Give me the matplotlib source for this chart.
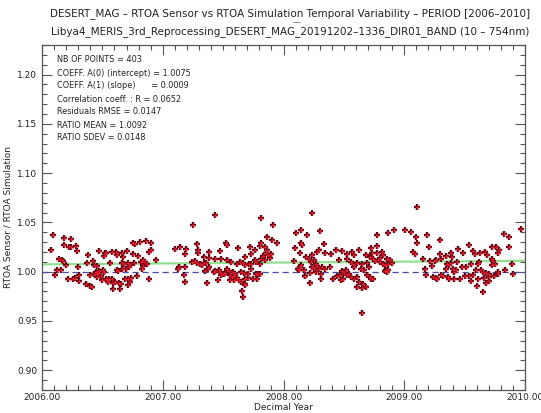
import matplotlib
matplotlib.use("Agg")
import matplotlib.pyplot as plt
from matplotlib.ticker import MultipleLocator, FormatStrFormatter
import numpy as np

title1 = "DESERT_MAG \u2013 RTOA Sensor vs RTOA Simulation Temporal Variability \u2013 PERIOD [2006\u20132010]"
title2 = "Libya4_MERIS_3rd_Reprocessing_DESERT_MAG_20191202\u20131336_DIR01_BAND (10 \u2013 754nm)"
stats = ["NB OF POINTS = 403",
         "COEFF. A(0) (intercept) = 1.0075",
         "COEFF. A(1) (slope)      = 0.0009",
         "Correlation coeff. : R = 0.0652",
         "Residuals RMSE = 0.0147",
         "RATIO MEAN = 1.0092",
         "RATIO SDEV = 0.0148"]
intercept = 1.0075
slope = 0.0009
ref_level = 1.0

years = [
 2006.094,2006.077,2006.185,2006.237,2006.182,2006.226,2006.243,2006.282,2006.287,2006.141,
 2006.163,2006.177,2006.202,2006.298,2006.127,2006.155,2006.108,2006.215,2006.257,2006.271,
 2006.309,2006.309,2006.384,2006.375,2006.425,2006.431,2006.475,2006.522,2006.513,2006.453,
 2006.447,2006.398,2006.433,2006.458,2006.475,2006.489,2006.497,2006.536,2006.513,2006.364,
 2006.398,2006.411,2006.458,2006.469,2006.502,
 2006.530,2006.580,2006.613,2006.621,2006.663,2006.674,2006.707,2006.751,2006.798,2006.756,
 2006.770,2006.814,2006.861,2006.903,2006.903,2006.889,2006.944,2006.566,2006.663,2006.682,
 2006.709,2006.729,2006.765,2006.820,2006.839,2006.856,2006.867,2006.834,2006.825,2006.718,
 2006.696,2006.660,2006.618,2006.629,2006.530,2006.558,2006.577,2006.544,2006.585,2006.607,
 2006.635,2006.654,2006.591,2006.646,2006.690,2006.709,2006.737,2006.729,2006.709,2006.787,
 2006.883,
 2007.435,2007.248,2007.099,2007.143,2007.195,2007.187,2007.284,2007.292,2007.292,2007.380,
 2007.339,2007.386,2007.435,2007.485,2007.477,2007.524,2007.532,2007.623,2007.532,2007.568,
 2007.615,2007.242,2007.264,2007.284,2007.311,2007.339,2007.358,2007.325,2007.380,2007.375,
 2007.137,2007.126,2007.187,2007.173,2007.181,2007.347,2007.366,2007.422,2007.435,2007.463,
 2007.477,2007.491,2007.504,2007.513,2007.485,2007.457,2007.532,2007.546,2007.560,2007.574,
 2007.587,2007.601,2007.579,2007.615,2007.560,2007.629,2007.587,
 2007.816,2007.913,2007.866,2007.905,2007.949,2007.811,2007.803,2007.720,2007.761,2007.850,
 2007.861,2007.858,2007.872,2007.899,2007.885,2007.830,2007.816,2007.844,2007.728,2007.678,
 2007.761,2007.775,2007.734,2007.712,2007.678,2007.665,2007.637,2007.803,2007.645,2007.673,
 2007.706,2007.734,2007.775,2007.789,2007.803,2007.747,2007.783,2007.684,2007.706,2007.651,
 2007.678,2007.684,2007.656,2007.665,2008.106,2008.142,2008.148,2008.153,2008.098,2008.134,
 2008.087,2008.148,2008.134,2008.120,2008.128,2008.175,
 2008.239,2008.197,2008.300,2008.335,2008.184,2008.211,2008.239,2008.280,2008.294,2008.341,
 2008.391,2008.432,2008.487,2008.529,2008.570,2008.584,2008.625,2008.680,2008.722,2008.225,
 2008.253,2008.266,2008.239,2008.253,2008.280,2008.322,2008.341,2008.385,2008.294,2008.460,
 2008.529,2008.556,2008.578,2008.611,2008.653,2008.694,2008.584,2008.639,2008.667,2008.708,
 2008.170,2008.219,2008.266,2008.308,2008.178,2008.219,2008.308,2008.413,2008.440,2008.468,
 2008.487,2008.501,2008.515,2008.523,2008.496,2008.479,2008.542,2008.556,2008.584,2008.611,
 2008.625,2008.661,2008.680,2008.611,2008.653,2008.694,2008.722,2008.653,
 2009.103,2008.772,2008.868,2008.915,2009.006,2009.053,2009.097,2009.108,2009.186,2009.208,
 2008.772,2008.730,2008.772,2008.813,2008.821,2008.799,2008.854,2008.882,2008.896,2008.868,
 2008.744,2008.785,2008.716,2008.758,2008.799,2008.827,2008.841,2009.075,2009.089,2009.158,
 2009.213,2009.255,2009.227,2009.172,2008.849,2008.854,2008.841,2008.868,2008.716,2008.744,
 2009.180,2009.241,2009.269,
 2009.296,2009.539,2009.829,2009.865,2009.296,2009.346,2009.387,2009.395,2009.442,2009.484,
 2009.572,2009.589,2009.627,2009.671,2009.682,2009.727,2009.760,2009.782,2009.774,2009.865,
 2009.263,2009.304,2009.351,2009.368,2009.387,2009.434,2009.478,2009.511,2009.553,2009.608,
 2009.621,2009.727,2009.738,2009.754,2009.727,2009.346,2009.401,2009.415,2009.429,2009.594,
 2009.636,2009.649,2009.677,2009.699,2009.774,2009.837,2009.263,2009.304,2009.324,2009.360,
 2009.373,2009.415,2009.462,2009.506,2009.539,2009.572,2009.609,2009.660,2009.701,2009.745,
 2009.774,2009.553,2009.677,2009.701,2009.599,2009.655,2009.964,2009.890,2009.898,
]

ratios = [
 1.037,1.022,1.034,1.033,1.027,1.025,1.025,1.026,1.021,1.013,
 1.012,1.011,1.007,1.005,1.002,1.002,0.997,0.993,0.993,0.994,
 0.997,0.991,1.017,1.009,1.011,1.007,1.021,1.019,1.016,1.006,
 1.000,0.997,0.998,0.998,1.001,0.996,0.992,0.992,1.000,0.988,
 0.986,0.984,0.995,0.999,1.002,
 1.019,1.020,1.020,1.017,1.019,1.015,1.021,1.018,1.016,1.029,
 1.028,1.030,1.031,1.029,1.022,1.020,1.012,1.009,1.009,1.008,
 1.009,1.007,1.009,1.010,1.012,1.010,1.008,1.006,1.003,1.005,
 1.003,1.003,1.002,1.001,0.993,0.993,0.993,0.990,0.989,0.990,
 0.989,0.988,0.982,0.982,0.993,0.993,0.994,0.990,0.987,0.996,
 0.993,
 1.058,1.047,1.023,1.025,1.023,1.018,1.028,1.022,1.019,1.020,
 1.015,1.014,1.013,1.013,1.021,1.029,1.027,1.024,1.012,1.010,
 1.008,1.010,1.011,1.009,1.008,1.009,1.009,1.007,1.005,1.003,
 1.005,1.003,1.005,0.997,0.990,1.001,0.989,1.000,1.001,1.002,
 1.000,0.998,0.998,0.999,0.997,0.992,1.003,1.001,0.997,0.995,
 0.996,0.998,1.000,0.994,0.992,0.992,0.992,
 1.055,1.047,1.035,1.032,1.029,1.029,1.026,1.025,1.022,1.025,
 1.022,1.019,1.017,1.018,1.014,1.016,1.013,1.012,1.018,1.015,
 1.012,1.010,1.008,1.008,1.007,1.009,1.010,1.008,1.000,0.999,
 0.998,1.003,0.998,0.998,0.998,0.993,0.993,0.993,0.994,0.990,
 0.988,0.987,0.980,0.974,1.039,1.042,1.029,1.027,1.024,1.019,
 1.011,1.007,1.005,1.003,1.002,0.996,
 1.060,1.037,1.041,1.028,1.015,1.013,1.017,1.020,1.022,1.019,
 1.018,1.022,1.021,1.018,1.020,1.017,1.022,1.017,1.024,1.010,
 1.012,1.008,1.005,1.003,1.006,1.005,1.003,1.005,1.003,1.012,
 1.013,1.010,1.008,1.009,1.008,1.009,1.005,1.003,1.002,1.005,
 1.002,0.999,1.000,0.998,0.996,0.989,0.993,0.993,0.996,0.997,
 1.001,0.999,1.002,0.997,0.993,0.992,0.998,0.995,0.993,0.995,
 0.990,0.988,0.985,0.984,0.983,0.997,0.993,0.958,
 1.066,1.037,1.039,1.042,1.042,1.040,1.035,1.029,1.037,1.025,
 1.026,1.019,1.019,1.020,1.017,1.014,1.013,1.012,1.009,1.008,
 1.013,1.012,1.015,1.011,1.010,1.008,1.007,1.020,1.018,1.013,
 1.011,1.011,1.006,1.003,1.002,1.000,1.001,1.002,0.995,0.993,
 0.997,0.995,0.993,
 1.032,1.027,1.038,1.035,1.018,1.016,1.019,1.015,1.023,1.019,
 1.021,1.018,1.019,1.020,1.017,1.025,1.025,1.022,1.019,1.025,
 1.012,1.013,1.008,1.007,1.009,1.010,1.005,1.005,1.008,1.008,
 1.010,1.013,1.011,1.008,1.007,1.003,1.003,1.000,1.002,1.002,
 1.002,1.000,0.999,0.998,1.000,1.002,0.994,0.997,0.996,0.995,
 0.993,0.993,0.993,0.996,0.996,0.997,0.993,0.994,0.995,0.996,
 0.998,0.991,0.989,0.991,0.986,0.979,1.043,1.008,0.998,
]

x_range = (2006.0, 2010.0)
y_range = (0.88, 1.23)

fig = plt.figure(figsize=(5.41, 4.13), dpi=100)
top_px, bot_px = 45, 390
ax = fig.add_axes([42/541, 1-bot_px/413, (525-42)/541, (bot_px-top_px)/413])

axis_col = "#555555"
txt_col = "#222222"
ax.set_xlim(*x_range)
ax.set_ylim(*y_range)

fx = np.array(x_range)
ax.plot(fx, intercept + slope*(fx - 2006.0), color="#8fe08f", lw=1.6, zorder=2)
ax.axhline(ref_level, color="#4a4aa8", lw=0.9, ls=(0, (5, 3)), zorder=2)

ax.plot(years, ratios, ls="none", marker="+", ms=5, mew=1.7, color="#5a0612", zorder=3)
ax.plot(years, ratios, ls="none", marker="+", ms=2.6, mew=0.8, color="#e01828", zorder=4)

ax.xaxis.set_major_locator(MultipleLocator(1.0))
ax.xaxis.set_minor_locator(MultipleLocator(0.1))
ax.yaxis.set_major_locator(MultipleLocator(0.05))
ax.yaxis.set_minor_locator(MultipleLocator(0.01))
ax.xaxis.set_major_formatter(FormatStrFormatter("%.2f"))
ax.yaxis.set_major_formatter(FormatStrFormatter("%.2f"))
ax.tick_params(which="both", direction="in", top=True, right=True, colors=axis_col,
               labelcolor=txt_col, labelsize=6.5, width=0.8)
ax.tick_params(which="major", length=7)
ax.tick_params(axis="x", which="major", pad=2)
ax.tick_params(which="minor", length=3.5)
for s in ax.spines.values():
    s.set_color(axis_col)
    s.set_linewidth(0.9)

ax.set_ylabel("RTOA Sensor / RTOA Simulation", fontsize=6.5, color=txt_col, labelpad=3)
fig.text((42+525)/2/541, 1 - 408/413, "Decimal Year", ha="center", va="center",
         fontsize=6.5, color=txt_col)

for i, line in enumerate(stats):
    fig.text(57/541, 1 - (60 + 13*i)/413, line, fontsize=5.9, color=txt_col,
             va="center", ha="left")

fig.text(290/541, 1 - 14/413, title1, ha="center", va="center", fontsize=7.5, color=txt_col)
fig.text(290/541, 1 - 32/413, title2, ha="center", va="center", fontsize=7.5, color=txt_col)
fig.text(297/541, 1 - 22/413, "\u2012\u2012", ha="center", va="center", fontsize=5, color=txt_col)

fig.savefig("out.png", dpi=100)
